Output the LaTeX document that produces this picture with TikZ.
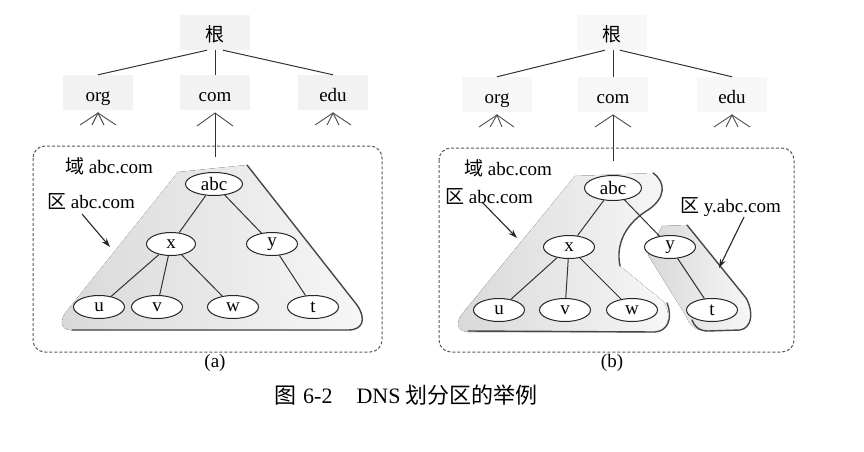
\documentclass[tikz,border=0pt]{standalone}
\usepackage{fontspec}
\setmainfont{Liberation Serif}
\newfontfamily\cjk{Noto Sans CJK SC}
\usetikzlibrary{shapes.geometric,arrows.meta}
\begin{document}
\begin{tikzpicture}[x=1pt,y=-1pt,
  every node/.style={font=\fontsize{19}{21}\selectfont},
  topbox/.style={fill=black!5, minimum width=70pt, minimum height=35pt, inner sep=0pt, text height=20pt, text depth=2pt},
  leaf/.style={ellipse, draw=black!85, fill=white, line width=1pt, minimum width=51pt, minimum height=23pt, inner sep=0pt},
  edge/.style={line width=1pt, draw=black!80},
  fan/.style={line width=0.9pt, draw=black!70},
  zoneline/.style={line width=1.4pt, draw=black!72, line cap=round},
  zonefill/.style={left color=black!15, right color=black!3},
  dbox/.style={draw=black!65, dash pattern=on 3pt off 2pt, line width=1pt, rounded corners=12pt},
  pointer/.style={line width=1.1pt, draw=black!85, -{Stealth[length=9pt,width=6pt]}},
  lab/.style={anchor=west, inner sep=0pt},
]
\useasboundingbox (0,0) rectangle (864,452);

% ================= panel (a) =================
\node[topbox] (rootA) at (215,32.5) {{\cjk 根}};
\node[topbox] (orgA) at (98,92.5) {org};
\node[topbox] (comA) at (215,92.5) {com};
\node[topbox] (eduA) at (333,92.5) {edu};
\draw[edge] ([xshift=-8pt]rootA.south) -- (orgA.north);
\draw[edge] (rootA.south) -- (comA.north);
\draw[edge] ([xshift=8pt]rootA.south) -- (eduA.north);

% fans
\coordinate (foA) at (98,113);
\coordinate (foA1) at (80,125); \coordinate (foA2) at (92,125);
\coordinate (foA3) at (104,125); \coordinate (foA4) at (116,125);
\draw[fan] (foA1) -- (foA) -- (foA4); \draw[fan] (foA2) -- (foA) -- (foA3);
\coordinate (fcA) at (215,113);
\coordinate (fcA1) at (197,126); \coordinate (fcA2) at (233,126);
\draw[fan] (fcA1) -- (fcA) -- (fcA2);
\coordinate (feA) at (333,113);
\coordinate (feA1) at (315,125); \coordinate (feA2) at (327,125);
\coordinate (feA3) at (339,125); \coordinate (feA4) at (351,125);
\draw[fan] (feA1) -- (feA) -- (feA4); \draw[fan] (feA2) -- (feA) -- (feA3);
\coordinate (downA) at (215,157);
\draw[edge] (fcA) -- (downA);

% domain box
\draw[dbox] (33,146) rectangle (382,352);

% zone shading
\fill[zonefill] (178,172) -- (247,165) -- (357,305) .. controls (366,318) and (364,330) .. (348,330) -- (70,330) .. controls (60,329) and (60,320) .. (66,312) -- cycle;
\draw[zoneline] (247,165) -- (357,305) .. controls (366,318) and (364,330) .. (348,330) -- (72,330);

% tree
\node[leaf, minimum width=57pt] (abcA) at (214,184) {abc};
\node[leaf, minimum width=49pt] (xA) at (171,244) {x};
\node[leaf] (yA) at (272,244) {y};
\node[leaf] (uA) at (99,307) {u};
\node[leaf] (vA) at (157,307) {v};
\node[leaf] (wA) at (233,307) {w};
\node[leaf] (tA) at (313,307) {t};
\draw[edge] (abcA) -- (xA);
\draw[edge] (abcA) -- (yA);
\draw[edge] (xA) -- (uA);
\draw[edge] (xA) -- (vA);
\draw[edge] (xA) -- (wA);
\draw[edge] (yA) -- (tA);

\node[lab] (domA) at (65,166) {{\cjk 域} abc.com};
\node[lab] (zoneA) at (47,202) {{\cjk 区} abc.com};
\coordinate (arA1) at (82,214);
\coordinate (arA2) at (110,247);
\draw[pointer] (arA1) -- (arA2);
\node (capA) at (215,363) {(a)};

% ================= panel (b) =================
\node[topbox, fill=black!3] (rootB) at (612,32.5) {{\cjk 根}};
\node[topbox, fill=black!3] (orgB) at (497,94.5) {org};
\node[topbox, fill=black!3] (comB) at (613,94.5) {com};
\node[topbox, fill=black!3] (eduB) at (732,94.5) {edu};
\draw[edge] ([xshift=-7pt]rootB.south) -- (orgB.north);
\draw[edge] ([xshift=1pt]rootB.south) -- (comB.north);
\draw[edge] ([xshift=8pt]rootB.south) -- (eduB.north);

\coordinate (foB) at (497,115);
\coordinate (foB1) at (479,127); \coordinate (foB2) at (490,127);
\coordinate (foB3) at (502,127); \coordinate (foB4) at (514,127);
\draw[fan] (foB1) -- (foB) -- (foB4); \draw[fan] (foB2) -- (foB) -- (foB3);
\coordinate (fcB) at (613,115);
\coordinate (fcB1) at (595,127); \coordinate (fcB2) at (631,127);
\draw[fan] (fcB1) -- (fcB) -- (fcB2);
\coordinate (feB) at (732,115);
\coordinate (feB1) at (714,127); \coordinate (feB2) at (726,127);
\coordinate (feB3) at (738,127); \coordinate (feB4) at (750,127);
\draw[fan] (feB1) -- (feB) -- (feB4); \draw[fan] (feB2) -- (feB) -- (feB3);
\coordinate (downB) at (613,161);
\draw[edge] (fcB) -- (downB);

\draw[dbox] (439,148) rectangle (794,352);

% zone abc.com shading
\fill[zonefill] (575,176) -- (653,173) .. controls (666,182) and (666,198) .. (648,210) .. controls (628,222) and (615,242) .. (620,266) -- (664,302) .. controls (672,318) and (668,331) .. (655,332) -- (468,332) .. controls (456,331) and (456,322) .. (462,314) -- cycle;
% zone y.abc.com shading
\fill[zonefill] (662,226) -- (687,225) -- (746,298) .. controls (754,312) and (752,328) .. (740,330) -- (708,331) .. controls (694,331) and (689,324) .. (686,316) -- (648,255) -- cycle;

\draw[zoneline] (468,331) -- (655,332) .. controls (668,331) and (673,318) .. (667,303);
\draw[zoneline] (653,173) .. controls (666,182) and (666,198) .. (648,210) .. controls (628,222) and (615,242) .. (620,266);
\draw[zoneline] (687,225) -- (746,298) .. controls (754,312) and (752,328) .. (740,330) -- (708,331) .. controls (699,331) and (694,326) .. (692,320);

\node[leaf, minimum width=57pt, minimum height=25pt] (abcB) at (613,188) {abc};
\node[leaf] (xB) at (569,247) {x};
\node[leaf] (yB) at (670,247) {y};
\node[leaf] (uB) at (499,310) {u};
\node[leaf] (vB) at (565,310) {v};
\node[leaf] (wB) at (632,310) {w};
\node[leaf] (tB) at (712,310) {t};
\draw[edge] (abcB) -- (xB);
\draw[edge] (abcB) -- (yB);
\draw[edge] (xB) -- (uB);
\draw[edge] (xB) -- (vB);
\draw[edge] (xB) -- (wB);
\draw[edge] (yB) -- (tB);

\node[lab] (domB) at (464,168) {{\cjk 域} abc.com};
\node[lab] (zoneB) at (445,197) {{\cjk 区} abc.com};
\node[lab] (zoneBy) at (680,207) {{\cjk 区} y.abc.com};
\coordinate (arB1) at (482,202);
\coordinate (arB2) at (517,238);
\draw[pointer] (arB1) -- (arB2);
\coordinate (arC1) at (744,217);
\coordinate (arC2) at (719,268);
\draw[pointer] (arC1) -- (arC2);
\node (capB) at (612,363) {(b)};

% caption
\node[anchor=west, inner sep=0pt, font=\fontsize{22}{24}\selectfont] (caption) at (274,395) {{\cjk 图}\hspace{7pt}6-2\hspace{24pt}DNS\hspace{5pt}{\cjk 划分区的举例}};
\end{tikzpicture}
\end{document}
